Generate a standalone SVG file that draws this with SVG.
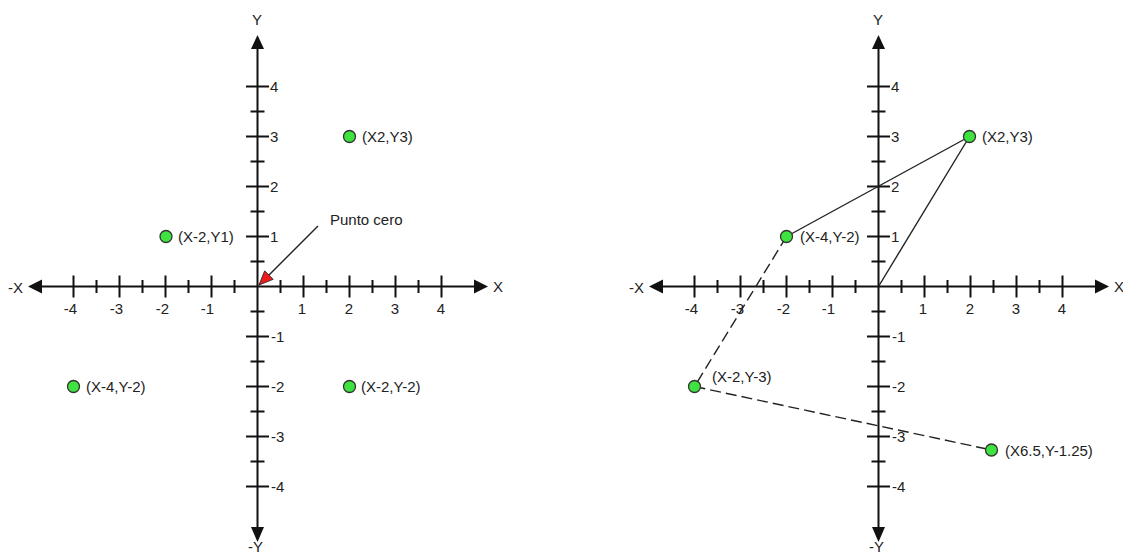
<svg xmlns="http://www.w3.org/2000/svg" width="1123" height="554" viewBox="0 0 1123 554">
<style>
text{font-family:"Liberation Sans",Arial,sans-serif;font-size:15px;fill:#222}
.ax{stroke:#111;stroke-width:2;fill:none}
.tk{stroke:#111;stroke-width:2;fill:none}
.xl{text-anchor:end}
.pt{fill:#3fe33f;stroke:#333;stroke-width:1.3}
.ln{stroke:#222;stroke-width:1.4;fill:none}
.dash{stroke-dasharray:11 5}
</style>
<defs>
<marker id="red" viewBox="0 0 16 14" refX="15" refY="7" markerWidth="16" markerHeight="14" markerUnits="userSpaceOnUse" orient="auto">
<path d="M1,1L15,7L1,13Z" fill="#ee1c1c" stroke="#222" stroke-width="0.8"/>
</marker>
</defs>

<g id="chart-left">
<g id="axes-left">
<path class="ax" d="M257.5,286.5H42M257.5,286.5H475M257.5,286.5V48M257.5,286.5V527"/>
<path d="M42,279.5L28,286.5L42,293.5Z" fill="#111"/>
<path d="M474,279.5L488,286.5L474,293.5Z" fill="#111"/>
<path d="M251,49L257.5,35L264,49Z" fill="#111"/>
<path d="M251,527L257.5,542L264,527Z" fill="#111"/>
<path class="tk" d="M73.5,275.5v22M119.5,275.5v22M165.5,275.5v22M211.5,275.5v22M303.5,275.5v22M349.5,275.5v22M395.5,275.5v22M441.5,275.5v22
M96.5,280v13M142.5,280v13M188.5,280v13M234.5,280v13M280.5,280v13M326.5,280v13M372.5,280v13M418.5,280v13
M246,86.5h23M246,136.5h23M246,186.5h23M246,236.5h23M246,336.5h23M246,386.5h23M246,436.5h23M246,486.5h23
M250.5,111.5h14M250.5,161.5h14M250.5,211.5h14M250.5,261.5h14M250.5,311.5h14M250.5,361.5h14M250.5,411.5h14M250.5,461.5h14"/>
<text class="xl" x="77" y="314">-4</text>
<text class="xl" x="123" y="314">-3</text>
<text class="xl" x="169" y="314">-2</text>
<text class="xl" x="214" y="314">-1</text>
<text class="xl" x="306" y="314">1</text>
<text class="xl" x="353" y="314">2</text>
<text class="xl" x="399" y="314">3</text>
<text class="xl" x="445" y="314">4</text>
<text x="270" y="92">4</text>
<text x="270" y="142">3</text>
<text x="270" y="192">2</text>
<text x="270" y="242">1</text>
<text x="271" y="342">-1</text>
<text x="271" y="392">-2</text>
<text x="271" y="442">-3</text>
<text x="271" y="492">-4</text>
<text x="252" y="25">Y</text>
<text x="248" y="552">-Y</text>
<text x="8" y="293">-X</text>
<text x="493" y="292">X</text>
</g>
<g id="punto-cero">
<line class="ln" x1="318" y1="226" x2="259" y2="285" marker-end="url(#red)"/>
<text x="330" y="225">Punto cero</text>
</g>
<g id="L-p1"><circle class="pt" cx="349.5" cy="136.5" r="6"/><text x="362" y="142">(X2,Y3)</text></g>
<g id="L-p2"><circle class="pt" cx="166" cy="236.5" r="6"/><text x="178" y="242">(X-2,Y1)</text></g>
<g id="L-p3"><circle class="pt" cx="73.5" cy="386.5" r="6"/><text x="86" y="392">(X-4,Y-2)</text></g>
<g id="L-p4"><circle class="pt" cx="349.5" cy="386.5" r="6"/><text x="361" y="392">(X-2,Y-2)</text></g>
</g>

<g id="chart-right">
<g id="axes-right" transform="translate(621,0)">
<path class="ax" d="M257.5,286.5H42M257.5,286.5H475M257.5,286.5V48M257.5,286.5V527"/>
<path d="M42,279.5L28,286.5L42,293.5Z" fill="#111"/>
<path d="M474,279.5L488,286.5L474,293.5Z" fill="#111"/>
<path d="M251,49L257.5,35L264,49Z" fill="#111"/>
<path d="M251,527L257.5,542L264,527Z" fill="#111"/>
<path class="tk" d="M73.5,275.5v22M119.5,275.5v22M165.5,275.5v22M211.5,275.5v22M303.5,275.5v22M349.5,275.5v22M395.5,275.5v22M441.5,275.5v22
M96.5,280v13M142.5,280v13M188.5,280v13M234.5,280v13M280.5,280v13M326.5,280v13M372.5,280v13M418.5,280v13
M246,86.5h23M246,136.5h23M246,186.5h23M246,236.5h23M246,336.5h23M246,386.5h23M246,436.5h23M246,486.5h23
M250.5,111.5h14M250.5,161.5h14M250.5,211.5h14M250.5,261.5h14M250.5,311.5h14M250.5,361.5h14M250.5,411.5h14M250.5,461.5h14"/>
<text class="xl" x="77" y="314">-4</text>
<text class="xl" x="123" y="314">-3</text>
<text class="xl" x="169" y="314">-2</text>
<text class="xl" x="214" y="314">-1</text>
<text class="xl" x="306" y="314">1</text>
<text class="xl" x="353" y="314">2</text>
<text class="xl" x="399" y="314">3</text>
<text class="xl" x="445" y="314">4</text>
<text x="270" y="92">4</text>
<text x="270" y="142">3</text>
<text x="270" y="192">2</text>
<text x="270" y="242">1</text>
<text x="271" y="342">-1</text>
<text x="271" y="392">-2</text>
<text x="271" y="442">-3</text>
<text x="271" y="492">-4</text>
<text x="252" y="25">Y</text>
<text x="248" y="552">-Y</text>
<text x="8" y="293">-X</text>
<text x="493" y="292">X</text>
</g>
<g id="connectors">
<line class="ln" x1="786.5" y1="236.5" x2="969.5" y2="136.5"/>
<line class="ln" x1="878.5" y1="286.5" x2="969.5" y2="136.5"/>
<line class="ln dash" x1="786.5" y1="236.5" x2="694.5" y2="386.5"/>
<line class="ln dash" x1="694.5" y1="386.5" x2="991.5" y2="450"/>
</g>
<g id="R-p1"><circle class="pt" cx="969.5" cy="136.5" r="6"/><text x="982" y="142">(X2,Y3)</text></g>
<g id="R-p2"><circle class="pt" cx="786.5" cy="236.5" r="6"/><text x="800" y="242">(X-4,Y-2)</text></g>
<g id="R-p3"><circle class="pt" cx="694.5" cy="386.5" r="6"/><text x="712" y="382">(X-2,Y-3)</text></g>
<g id="R-p4"><circle class="pt" cx="991.5" cy="450" r="6"/><text x="1005" y="456">(X6.5,Y-1.25)</text></g>
</g>
</svg>
